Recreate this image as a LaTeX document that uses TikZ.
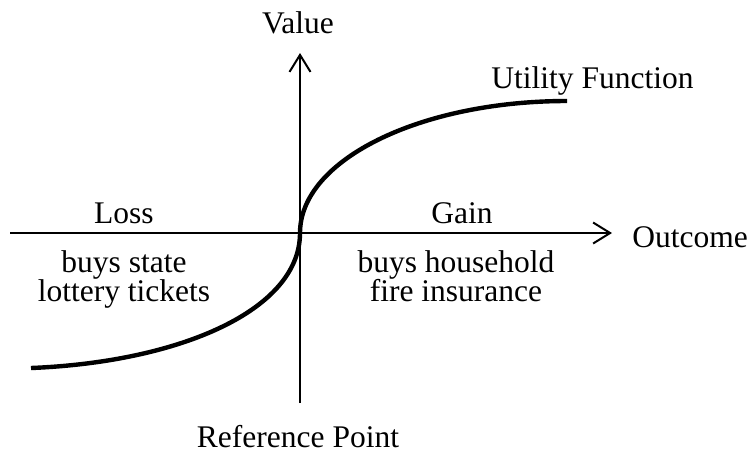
\documentclass[tikz,border=0pt]{standalone}
\usepackage{fontspec}
\setmainfont{Liberation Serif}
\usetikzlibrary{arrows.meta}

\begin{document}
\begin{tikzpicture}[x=0.5pt, y=-0.5pt,
    every node/.style={inner sep=0pt, font=\fontsize{15.75}{16}\selectfont},
    axis/.style={line width=1pt, -{Straight Barb[length=8.5pt, width=10.5pt]}}]
                    \useasboundingbox (0, 0) rectangle (748, 457);

                    % axes
                    \coordinate (O) at (300, 233);
                    \draw [axis] (10, 233) -- (612, 233);
                    \draw [axis] (300, 403) -- (300, 53);

                    % the curve
                    \draw [line width=2.2pt] (31, 368) .. controls (180, 362) and (300, 310) .. (O)
                        .. controls (300, 160) and (420, 101) .. (567, 101);

                    \node [anchor=base] (Nv) at (298, 33) { Value };
                    \node [anchor=base west] (No) at (632, 247) { Outcome };
                    \node [anchor=base west] (Nu) at (491, 88) { Utility Function };
                    \node [anchor=base] (Nr) at (298, 447) { Reference Point };

                    \node [anchor=base] (Nl) at (124, 223) { Loss };
                    \node [anchor=base] (Ng) at (462, 223) { Gain };
                    \node [anchor=base] (Ls1) at (124, 272) { buys state };
                    \node [anchor=base] (Ls2) at (124, 301) { lottery tickets };
                    \node [anchor=base] (Gs1) at (456, 272) { buys household };
                    \node [anchor=base] (Gs2) at (456, 301) { fire insurance };
            \end{tikzpicture}
\end{document}
